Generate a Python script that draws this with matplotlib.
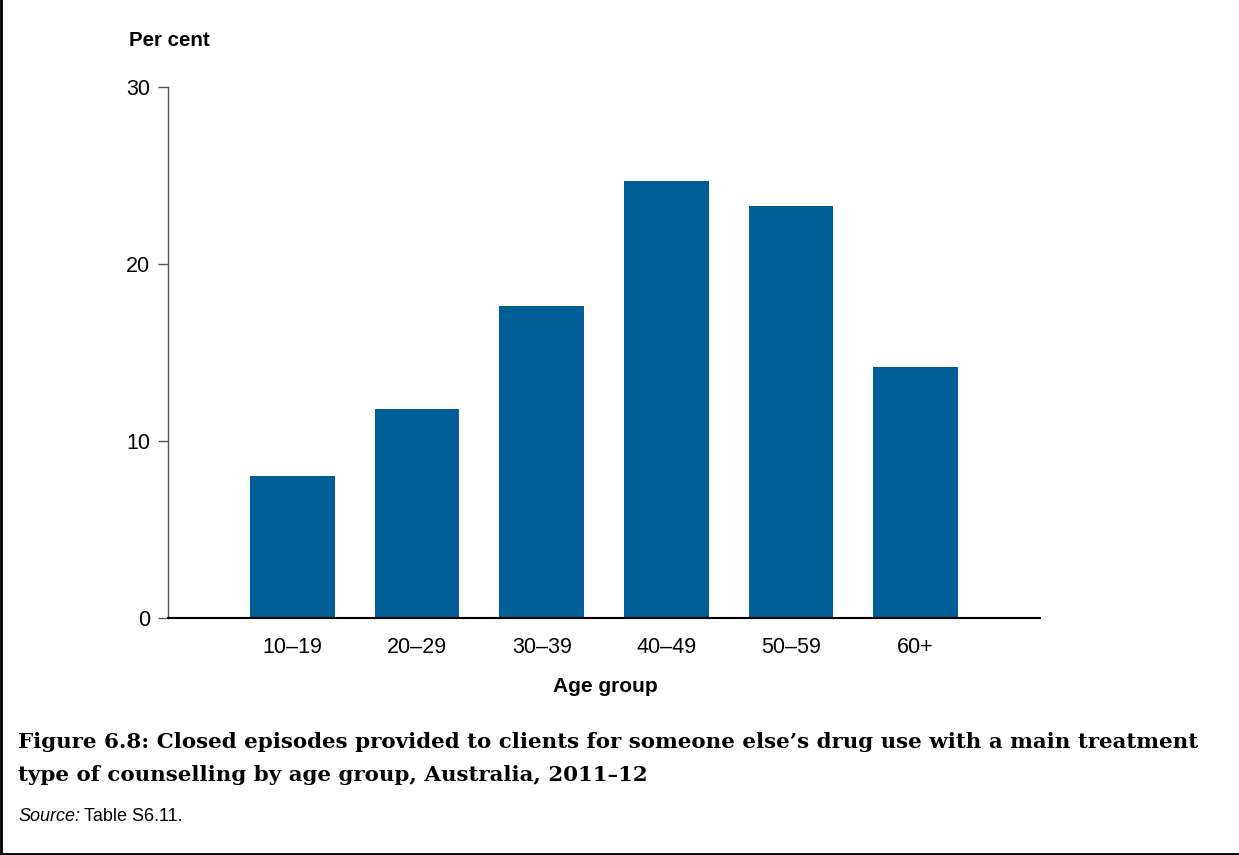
import matplotlib
matplotlib.use("Agg")
import matplotlib.pyplot as plt
from matplotlib.lines import Line2D

categories = ["10–19", "20–29", "30–39", "40–49", "50–59", "60+"]
values = [8.0, 11.8, 17.6, 24.7, 23.3, 14.2]
yticks = [0, 10, 20, 30]

W, H = 1239, 855
fig = plt.figure(figsize=(W / 100, H / 100), dpi=100)
plt.rcParams['font.family'] = ['Liberation Sans', 'DejaVu Sans']

ax = fig.add_axes([168 / W, 1 - 618 / H, (1040 - 168) / W, (618 - 87) / H])
x = list(range(len(categories)))
ax.bar(x, values, width=0.68, color="#005E96", zorder=2)
ax.set_xlim(-1, 6)
ax.set_ylim(0, 30)
ax.set_yticks(yticks)
ax.set_yticklabels([str(t) for t in yticks], fontsize=15.5)
ax.set_xticks(x)
ax.set_xticklabels(categories, fontsize=15.5)
ax.tick_params(axis='x', length=0, pad=14)
ax.tick_params(axis='y', length=7, width=1, color="#555555", pad=6)
for s in ["top", "right"]:
    ax.spines[s].set_visible(False)
ax.spines["left"].set_color("#555555")
ax.spines["left"].set_linewidth(1)
ax.spines["bottom"].set_color("black")
ax.spines["bottom"].set_linewidth(1.5)

fig.text(129 / W, 1 - 41 / H, "Per cent", fontsize=14.8, fontweight="bold", va="center", ha="left")
fig.text(605 / W, 1 - 686 / H, "Age group", fontsize=15, fontweight="bold", va="center", ha="center")

title_font = ['DejaVu Serif']
fig.text(18 / W, 1 - 742 / H,
         "Figure 6.8: Closed episodes provided to clients for someone else’s drug use with a main treatment",
         fontsize=15.4, fontweight="bold", family=title_font, va="center", ha="left")
fig.text(18 / W, 1 - 775 / H,
         "type of counselling by age group, Australia, 2011–12",
         fontsize=15.4, fontweight="bold", family=title_font, va="center", ha="left")

t1 = fig.text(18 / W, 1 - 816 / H, "Source:", fontsize=13, style="italic", va="center", ha="left")
fig.canvas.draw()
bb = t1.get_window_extent(renderer=fig.canvas.get_renderer())
fig.text((bb.x1 + 4) / W, 1 - 816 / H, "Table S6.11.", fontsize=13, va="center", ha="left")

# frame: left and bottom edges
fig.add_artist(Line2D([1 / W, 1 / W], [0, 1], color="black", lw=2, transform=fig.transFigure))
fig.add_artist(Line2D([0, 1], [1.5 / H, 1.5 / H], color="black", lw=2, transform=fig.transFigure))

fig.savefig("out.png", dpi=100)
